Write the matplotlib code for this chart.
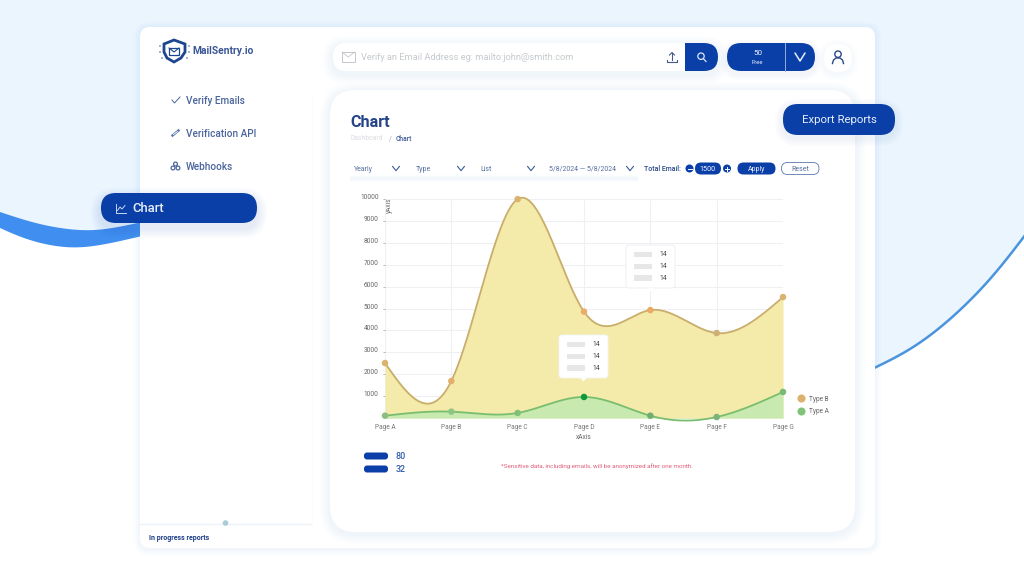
import numpy as np
import matplotlib
matplotlib.use("Agg")
import matplotlib.pyplot as plt
from matplotlib.patches import FancyBboxPatch, Circle, Polygon, Rectangle
from matplotlib.lines import Line2D
from matplotlib.transforms import ScaledTranslation

plt.rcParams['font.family'] = ['Roboto', 'DejaVu Sans']

# ---- data ----
pages = ["Page A", "Page B", "Page C", "Page D", "Page E", "Page F", "Page G"]
type_b = [2510, 1690, 10000, 4860, 4930, 3880, 5525]
type_a = [105, 290, 230, 960, 105, 45, 1190]
y_ticks = [1000, 2000, 3000, 4000, 5000, 6000, 7000, 8000, 9000, 10000]
nav_items = ["Verify Emails", "Verification API", "Webhooks"]
nav_y = [100, 133, 166]
filters = ["Yearly", "Type", "List", "5/8/2024 — 5/8/2024"]
filter_x = [354, 416, 480, 549]
chevron_x = [396, 461, 531, 630]
legend_rows = ["80", "32"]
legend_row_y = [456, 469]

NAVY = "#0A3FA8"
BG = "#EAF5FE"
W, H = 1024, 576


def natural_spline(xs, ys, n=60):
    """Smooth curve through points at unit spacing in xs (natural cubic)."""
    xs, ys = np.asarray(xs, float), np.asarray(ys, float)
    m = len(xs)
    A = np.zeros((m, m))
    b = np.zeros(m)
    A[0, 0] = A[-1, -1] = 1
    for i in range(1, m - 1):
        A[i, i - 1:i + 2] = [1, 4, 1]
        b[i] = 6 * (ys[i + 1] - 2 * ys[i] + ys[i - 1])
    s = np.linalg.solve(A, b)
    out_x, out_y = [], []
    for i in range(m - 1):
        t = np.linspace(0, 1, n)
        y = ((1 - t) * ys[i] + t * ys[i + 1]
             + ((1 - t) ** 3 - (1 - t)) * s[i] / 6 + (t ** 3 - t) * s[i + 1] / 6)
        out_x.append(xs[i] + t)
        out_y.append(y)
    return np.concatenate(out_x), np.concatenate(out_y)


def smooth(pts):
    pts = np.asarray(pts, float)
    idx = np.arange(len(pts))
    _, x = natural_spline(idx, pts[:, 0], 30)
    _, y = natural_spline(idx, pts[:, 1], 30)
    return np.column_stack([x, y])


fig = plt.figure(figsize=(W / 100, H / 100), dpi=100, facecolor="white")
bg = fig.add_axes([0, 0, 1, 1], zorder=0)
bg.set_xlim(0, W)
bg.set_ylim(H, 0)
bg.axis("off")


def rbox(x0, y0, x1, y1, r, fc, ec="none", lw=0, z=2, ax=bg, alpha=None):
    p = FancyBboxPatch((x0 + r, y0 + r), x1 - x0 - 2 * r, y1 - y0 - 2 * r,
                       boxstyle=f"round,pad={r},rounding_size={r}", fc=fc, ec=ec,
                       lw=lw, zorder=z, alpha=alpha, mutation_aspect=1)
    ax.add_patch(p)
    return p


def shadow(x0, y0, x1, y1, r, color="#3F7FD0", spread=12, dy=4, a=0.012, z=1.5):
    for k in range(spread, 0, -2):
        rbox(x0 - k, y0 - k + dy, x1 + k, y1 + k + dy, r + k, color, z=z, alpha=a)


def txt(x, y, s, size=6, color="#555", weight="normal", ha="left", z=6, **kw):
    return bg.text(x, y + 0.6, s, fontsize=size, color=color, fontweight=weight,
                   ha=ha, va="center", zorder=z, **kw)


def chevron(x, y, w=4, h=2.5, color="#3A5A95", lw=0.8, z=6):
    bg.plot([x - w, x, x + w], [y - h, y + h, y - h], color=color, lw=lw, zorder=z,
            solid_capstyle="round", solid_joinstyle="round")


# two-tone page background with wave strokes
wave_top = smooth([(0, 212), (40, 224), (80, 230), (112, 228), (142, 222)])
wave_bot = smooth([(0, 228), (30, 240), (65, 247), (100, 245), (142, 236)])
right_curve = smooth([(870, 370), (910, 349), (950, 319), (990, 279), (1026, 234)])
bg.add_patch(Polygon(np.vstack([[(0, 0)], wave_top, [(142, 0)]]), closed=True, fc=BG, ec="none", zorder=0.5))
bg.add_patch(Polygon(np.vstack([[(142, 0)], [(142, 240)], right_curve, [(1026, 0)]]), closed=True,
                     fc=BG, ec="none", zorder=0.5))
bg.add_patch(Polygon(np.vstack([wave_top, wave_bot[::-1]]), closed=True, fc="#3F8EF0", ec="none", zorder=1))
bg.plot(right_curve[:, 0], right_curve[:, 1], color="#4A94DE", lw=1.8, zorder=1)

# main white card
shadow(140, 27, 875, 548, 10, color="#7FB2E6", spread=6, dy=1, a=0.03)
rbox(140, 27, 875, 548, 10, "#FFFFFF", z=2)

# sidebar footer
bg.plot([140, 312], [524, 524], color="#EEF3F9", lw=1.0, zorder=3)
bg.plot([312, 312], [95, 524], color="#FAFBFD", lw=0.8, zorder=3)
bg.add_patch(Circle((225.5, 523), 2.8, fc="#A9CCD6", ec="none", zorder=3))
txt(149, 537.5, "In progress reports", 5.0, "#1F3F86", "bold")

# content panel
shadow(330, 90, 855, 532, 26, color="#7FB2E6", spread=10, dy=2, a=0.018, z=2.5)
rbox(330, 90, 855, 532, 26, "#FFFFFF", z=3)

# logo
bg.add_patch(Polygon([(164, 44), (174, 40), (185, 44), (185, 52), (181, 58), (174, 62), (167, 58), (164, 52)],
                     closed=True, fc="white", ec="#1D4690", lw=2.0, zorder=5))
bg.add_patch(Rectangle((169, 48), 10, 6.5, fc="white", ec="#1D4690", lw=0.9, zorder=6))
bg.plot([169, 174, 179], [48, 52, 48], color="#1D4690", lw=0.8, zorder=7)
for lx, ly in [(160, 46), (160, 52), (162, 58), (189, 46), (189, 52), (187, 58)]:
    bg.add_patch(Circle((lx, ly), 0.7, fc="#1D4690", ec="none", zorder=5))
txt(192.5, 50, "MailSentry.io", 7.4, "#3A5795", "bold")

# nav
for label, y in zip(nav_items, nav_y):
    txt(185.5, y, label, 7.2, "#4A659C", "medium")
bg.plot([172, 174.5, 180], [100, 103, 97], color="#4A659C", lw=0.7, zorder=6)
bg.plot([172.5, 178.5], [135.5, 130.5], color="#5A76AB", lw=1.7, zorder=6)
bg.plot([173.5, 177.5], [134.5, 131.5], color="white", lw=0.6, zorder=7)
for cx, cy in [(175.5, 164), (173, 168), (178, 168)]:
    bg.add_patch(Circle((cx, cy), 1.9, fc="white", ec="#4A659C", lw=0.9, zorder=6))

# active nav pill
shadow(101, 193, 257, 223, 15, color="#0A3FA8", spread=10, dy=5, a=0.018, z=3.5)
rbox(101, 193, 257, 223, 15, NAVY, z=4)
txt(132, 208, "Chart", 9.4, "#E8EFFB", "medium")
bg.plot([116, 116, 125.5], [204, 212.5, 212.5], color="#C6D6F2", lw=0.7, zorder=6)
bg.plot([117.5, 120, 122, 125], [210.5, 207, 209, 205.5], color="#C6D6F2", lw=0.7, zorder=6)

# search bar
shadow(333, 43, 718, 71, 13, color="#7FB2E6", spread=10, dy=3, a=0.018, z=3.5)
rbox(333, 43, 718, 71, 13, "#FFFFFF", z=4)
bg.add_patch(Rectangle((342, 52), 12.5, 9.5, fc="none", ec="#C4C7CC", lw=0.7, zorder=6))
bg.plot([342, 348.2, 354.5], [52, 57, 52], color="#C4C7CC", lw=0.6, zorder=6)
txt(361, 57, "Verify an Email Address eg: mailto:john@smith.com", 6.7, "#C6CACE")
bg.plot([672, 672], [53, 60], color="#45598A", lw=0.8, zorder=6)
bg.plot([669.5, 672, 674.5], [55, 52.5, 55], color="#45598A", lw=0.8, zorder=6)
bg.plot([667, 667, 677, 677], [59.5, 61.5, 61.5, 59.5], color="#45598A", lw=0.8, zorder=6)
rbox(685, 43, 718, 71, 14, NAVY, z=5)
bg.add_patch(Rectangle((685, 43), 18, 28, fc=NAVY, ec="none", zorder=5))
bg.add_patch(Circle((701, 56.2), 3.2, fc="none", ec="#DCE7FA", lw=0.9, zorder=6))
bg.plot([703.5, 706], [58.8, 61.5], color="#DCE7FA", lw=0.9, zorder=6)

# credits pill
shadow(727, 43, 815, 71, 14, color="#0A3FA8", spread=6, dy=3, a=0.015, z=3.5)
rbox(727, 43, 815, 71, 14, NAVY, z=4)
bg.plot([785, 785], [43, 71], color="#8FAEE3", lw=0.7, zorder=5)
txt(757.5, 52, "50", 5.8, "#E9F0FC", ha="center")
txt(757.5, 61.5, "Free", 4.2, "#E9F0FC", ha="center")
chevron(800, 57, 5, 4, "#E9F0FC", 1.1)

# profile button
shadow(824, 44, 852, 72, 14, color="#7FB2E6", spread=6, dy=2, a=0.02, z=3.5)
rbox(824, 44, 852, 72, 14, "#FFFFFF", z=4)
bg.add_patch(Circle((838, 54.2), 3.2, fc="none", ec="#2A4A88", lw=1.0, zorder=6))
bg.plot([832.5, 833.5, 836, 840, 842.5, 843.5], [63.5, 60, 58, 58, 60, 63.5], color="#2A4A88", lw=1.0, zorder=6)

# title and export button
txt(350.5, 121.5, "Chart", 11.6, "#254488", "bold")
txt(350.5, 138, "Dashboard", 4.9, "#DADCE0")
txt(389, 138, "/", 4.9, "#9AA2B0")
txt(396, 138, "Chart", 4.9, "#3A5A95", "medium")
shadow(783, 104, 895, 135, 15, color="#0A3FA8", spread=8, dy=3, a=0.015, z=3.5)
rbox(783, 104, 895, 135, 15, NAVY, z=7)
txt(839, 119.5, "Export Reports", 8.2, "#E8EFFB", ha="center", z=8)

# filter bar: a soft shadow under white selectors
for k, a in [(3, 0.12), (2, 0.18), (1, 0.25)]:
    bg.add_patch(Rectangle((350, 178 - k), 288, 2 * k + 1, fc="#E4EFFA", ec="none", alpha=a, zorder=3.2))
for label, x in zip(filters, filter_x):
    txt(x, 168.5, label, 5.0, "#56709E")
for x in chevron_x:
    chevron(x, 168.5, 3.5, 2.2)
txt(644, 168.5, "Total Email:", 5.0, "#2A4A88", "medium")
bg.add_patch(Circle((689.5, 168.5), 4, fc=NAVY, ec="none", zorder=5))
bg.plot([687.5, 691.5], [168.5, 168.5], color="white", lw=0.7, zorder=6)
rbox(695, 162.5, 721, 174.5, 6, NAVY, z=5)
txt(708, 168.5, "1500", 5.2, "#F2F6FD", ha="center")
bg.add_patch(Circle((727, 168.5), 4, fc=NAVY, ec="none", zorder=5))
bg.plot([725, 729], [168.5, 168.5], color="white", lw=0.7, zorder=6)
bg.plot([727, 727], [166.5, 170.5], color="white", lw=0.7, zorder=6)
rbox(737.5, 162.5, 775.5, 174.5, 6, NAVY, z=5)
txt(756.5, 168.5, "Apply", 5.0, "#E8EFFB", ha="center")
rbox(781.5, 162.5, 819, 174.5, 6, "#FFFFFF", ec="#5A76AB", lw=0.6, z=5)
txt(800.5, 168.5, "Reset", 5.0, "#56709E", ha="center")

# ---- chart ----
PX_LEFT, PX_RIGHT = 385, 783
PX_BASE = 418
PX_PER_UNIT = 197 / 9000
Y_TOP = 10600
px_top = PX_BASE - Y_TOP * PX_PER_UNIT
ax = fig.add_axes([PX_LEFT / W, 1 - PX_BASE / H, (PX_RIGHT - PX_LEFT) / W, (PX_BASE - px_top) / H], zorder=2)
ax.patch.set_alpha(0)
for sp in ax.spines.values():
    sp.set_visible(False)
xpos = np.arange(len(pages))
ax.set_xlim(0, len(pages) - 1)
ax.set_ylim(0, Y_TOP)

ax.hlines(y_ticks, 0, xpos[-1], color="#EEF0F3", lw=0.8, zorder=1)
ax.vlines(xpos, 0, y_ticks[-1], color="#EEF0F3", lw=0.8, zorder=1)

bx, by = natural_spline(xpos, type_b)
axx, ayy = natural_spline(xpos, type_a)
ax.fill_between(bx, 0, by, color="#F4EAAA", lw=0, zorder=2)
ax.fill_between(axx, 0, ayy, color="#C8EAB0", lw=0, zorder=3)
ax.plot(bx, by, color="#C9AE6A", lw=1.3, zorder=4, clip_on=False)
ax.plot(axx, ayy, color="#79BE6E", lw=1.3, zorder=4, clip_on=False)

marker_b = ["#D9B36F", "#E5AE6A", "#D9B36F", "#E9AD68", "#EBA963", "#CFB074", "#D9B36F"]
marker_a = ["#8DBE80", "#8DC584", "#80C07A", "#0E9A3A", "#6FAE70", "#79B578", "#78B974"]
ax.scatter(xpos, type_b, s=22, c=marker_b, zorder=5, clip_on=False, linewidths=0)
ax.scatter(xpos, type_a, s=22, c=marker_a, zorder=5, clip_on=False, linewidths=0)

ax.set_xticks(xpos, pages)
ax.set_yticks(y_ticks, [str(v) for v in y_ticks])
ax.tick_params(axis="x", length=0, pad=4.5, labelsize=4.7, labelcolor="#777")
ax.tick_params(axis="y", length=1.5, width=0.5, color="#999", pad=3, labelsize=4.7, labelcolor="#666")
for lab in ax.get_yticklabels():
    lab.set_transform(lab.get_transform() + ScaledTranslation(0, 2.5 / 100, fig.dpi_scale_trans))
txt(389, 205, "yAxis", 4.7, "#666", ha="center", rotation=90)
txt(584, 436.5, "xAxis", 4.7, "#666", ha="center")

handles = [Line2D([], [], ls="", marker="o", ms=5.8, color="#DDB06C", mew=0),
           Line2D([], [], ls="", marker="o", ms=5.8, color="#7FC476", mew=0)]
ax.legend(handles, ["Type B", "Type A"], loc="center left", frameon=False,
          bbox_to_anchor=(793 / W, 1 - 405.5 / H), bbox_transform=fig.transFigure,
          fontsize=4.7, labelcolor="#666", handletextpad=0.55, labelspacing=0.85,
          borderpad=0, handlelength=1.4)

# tooltips live above the chart
top = fig.add_axes([0, 0, 1, 1], zorder=3)
top.set_xlim(0, W)
top.set_ylim(H, 0)
top.axis("off")
top.patch.set_alpha(0)
for (x0, y0), ec in [((559, 335), "#F3F4F6"), ((626, 245), "#E9EEF3")]:
    rbox(x0, y0, x0 + 49, y0 + 43, 3, "#FFFFFF", ec=ec, lw=0.6, z=2, ax=top)
    top.add_patch(Polygon([(x0 + 21.5, y0 + 43), (x0 + 24.5, y0 + 46.5), (x0 + 27.5, y0 + 43)],
                          fc="white", ec="none", zorder=3))
    for dy in (9.5, 21.5, 33):
        top.add_patch(Rectangle((x0 + 7.5, y0 + dy - 2.8), 18, 5.6, fc="#E7E7E8", ec="none", zorder=3))
        top.text(x0 + 37.5, y0 + dy, "14", fontsize=4.9, color="#444", ha="center", va="center", zorder=3)

# bottom rows and note
for label, y in zip(legend_rows, legend_row_y):
    rbox(364, y - 3.5, 388, y + 3.5, 3, NAVY, z=5)
    txt(396, y, label, 6.4, "#2E5AA8", "medium")
txt(501, 465.5, "*Sensitive data, including emails, will be anonymized after one month.", 4.5, "#E0607A")

fig.savefig("out.png", dpi=100, facecolor="white")
